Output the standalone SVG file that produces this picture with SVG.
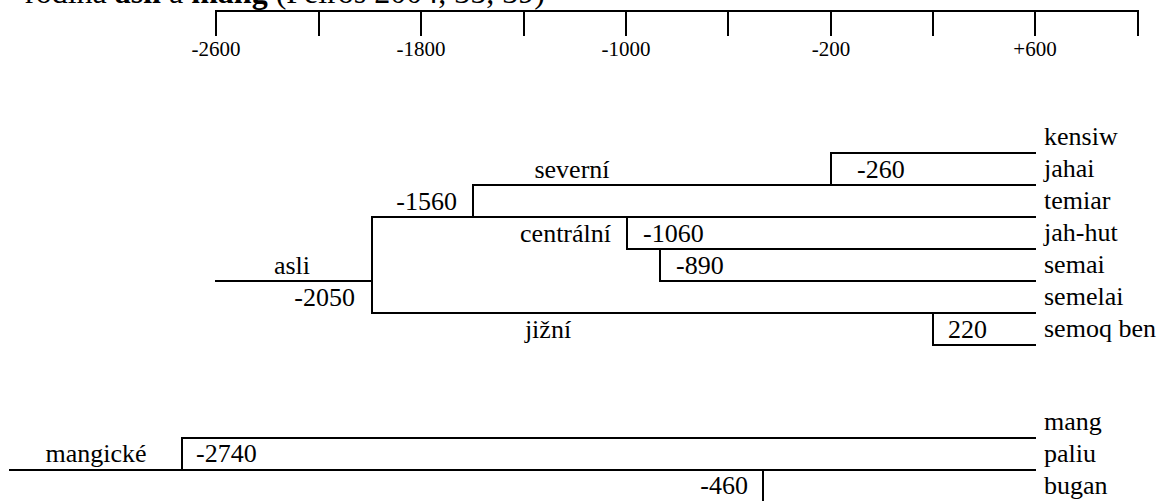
<svg xmlns="http://www.w3.org/2000/svg" width="1167" height="501" viewBox="0 0 1167 501" font-family="'Liberation Serif', 'DejaVu Serif', serif">
<style>
text{font-family:'Liberation Serif','DejaVu Serif',serif;fill:#000}
.t{font-size:26px}
.ax{font-size:21px;text-anchor:middle}
.ttl{font-size:32px}
.e{text-anchor:end}
.m{text-anchor:middle}
.ln{fill:none;stroke:#000;stroke-width:2;stroke-linecap:square}
</style>
<g id="title"><text class="ttl" x="25" y="3">rodina <tspan font-weight="bold">asli</tspan> a <tspan font-weight="bold">mang</tspan> (Peiros 2004, 35, 39)</text></g>
<g id="axis">
<path class="ln" d="M216 11H1138M216 11V35M319 11V35M421 11V35M524 11V35M626 11V35M728 11V35M831 11V35M933 11V35M1035 11V35M1138 11V35"/>
<text class="ax" x="216" y="56">-2600</text>
<text class="ax" x="421" y="56">-1800</text>
<text class="ax" x="626" y="56">-1000</text>
<text class="ax" x="831" y="56">-200</text>
<text class="ax" x="1035" y="56">+600</text>
</g>
<g id="connectors">
<path class="ln" d="M216 281H372M372 217V313M372 217H1035M473 217V185H1035M831 185V153H1035M627 217V249H1035M660 249V281H1035M372 313H1035M933 313V345H1035"/>
<path class="ln" d="M10 470H1035M182 470V438H1035M763 470V505"/>
</g>
<g id="asli"><text class="t m" x="292" y="274">asli</text><text class="t e" x="355" y="306">-2050</text></g>
<g id="severni"><text class="t m" x="572" y="178">severní</text><text class="t e" x="457" y="210">-1560</text></g>
<g id="n260"><text class="t" x="857" y="178">-260</text></g>
<g id="centralni"><text class="t e" x="611" y="242">centrální</text><text class="t" x="643" y="242">-1060</text></g>
<g id="n890"><text class="t" x="676" y="274">-890</text></g>
<g id="jizni"><text class="t m" x="548" y="338">jižní</text><text class="t" x="948" y="338">220</text></g>
<g id="kensiw"><text class="t" x="1044" y="145">kensiw</text></g>
<g id="jahai"><text class="t" x="1044" y="177">jahai</text></g>
<g id="temiar"><text class="t" x="1044" y="209">temiar</text></g>
<g id="jah-hut"><text class="t" x="1044" y="241">jah-hut</text></g>
<g id="semai"><text class="t" x="1044" y="273">semai</text></g>
<g id="semelai"><text class="t" x="1044" y="305">semelai</text></g>
<g id="semoq-ben"><text class="t" x="1044" y="337">semoq ben</text></g>
<g id="mangicke"><text class="t m" x="96" y="462">mangické</text><text class="t" x="196" y="462">-2740</text></g>
<g id="n460"><text class="t e" x="748" y="494">-460</text></g>
<g id="mang"><text class="t" x="1044" y="430">mang</text></g>
<g id="paliu"><text class="t" x="1044" y="462">paliu</text></g>
<g id="bugan"><text class="t" x="1044" y="494">bugan</text></g>
</svg>
